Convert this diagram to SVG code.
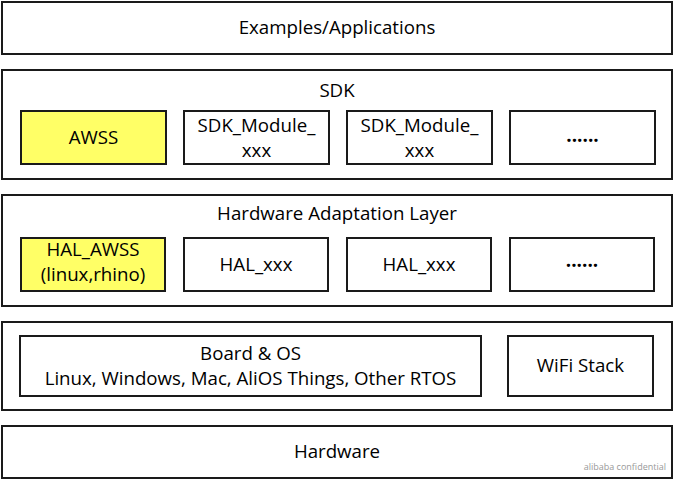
<svg xmlns="http://www.w3.org/2000/svg" width="675" height="480" viewBox="0 0 675 480">
<style>
.box{fill:#fff;stroke:#1a1a1a;stroke-width:2}
.hl{fill:#ffff66;stroke:#1a1a1a;stroke-width:2}
text{font-family:"Open Sans","Liberation Sans",sans-serif;font-size:18.7px;fill:#000;text-anchor:middle}
.dots{font-weight:bold;font-size:19px}
.wm{font-size:9px;fill:#999;text-anchor:end}
</style>
<rect width="675" height="480" fill="#fff"/>
<g id="apps"><rect class="box" x="2" y="2" width="670" height="52"/><text x="337" y="34">Examples/Applications</text></g>
<g id="sdk"><rect class="box" x="2" y="70" width="670" height="109"/><text x="337" y="97">SDK</text></g>
<g id="awss"><rect class="hl" x="21" y="111" width="145" height="53"/><text x="93.5" y="144">AWSS</text></g>
<g id="sdkmod1"><rect class="box" x="184" y="111" width="145" height="53"/><text x="256.5" y="132">SDK_Module_</text><text x="256.5" y="157">xxx</text></g>
<g id="sdkmod2"><rect class="box" x="347" y="111" width="145" height="53"/><text x="419.5" y="132">SDK_Module_</text><text x="419.5" y="157">xxx</text></g>
<g id="sdkmore"><rect class="box" x="510" y="111" width="145" height="53"/><text class="dots" x="582.5" y="142">......</text></g>
<g id="hal"><rect class="box" x="2" y="195" width="670" height="111"/><text x="337" y="220">Hardware Adaptation Layer</text></g>
<g id="halawss"><rect class="hl" x="21" y="238" width="144" height="53"/><text x="93" y="256">HAL_AWSS</text><text x="93" y="281">(linux,rhino)</text></g>
<g id="hal1"><rect class="box" x="184" y="238" width="144" height="53"/><text x="256" y="271">HAL_xxx</text></g>
<g id="hal2"><rect class="box" x="347" y="238" width="144" height="53"/><text x="419" y="271">HAL_xxx</text></g>
<g id="halmore"><rect class="box" x="510" y="238" width="144" height="53"/><text class="dots" x="582" y="267">......</text></g>
<g id="board"><rect class="box" x="2" y="322" width="670" height="88"/></g>
<g id="boardos"><rect class="box" x="20" y="336" width="461" height="60"/><text x="250.5" y="360">Board &amp; OS</text><text x="250.5" y="385">Linux, Windows, Mac, AliOS Things, Other RTOS</text></g>
<g id="wifi"><rect class="box" x="508" y="336" width="145" height="60"/><text x="580.5" y="372">WiFi Stack</text></g>
<g id="hardware"><rect class="box" x="2" y="426" width="670" height="52"/><text x="337" y="458">Hardware</text><text class="wm" x="666" y="470">alibaba confidential</text></g>
<g id="connectors"/>
</svg>
